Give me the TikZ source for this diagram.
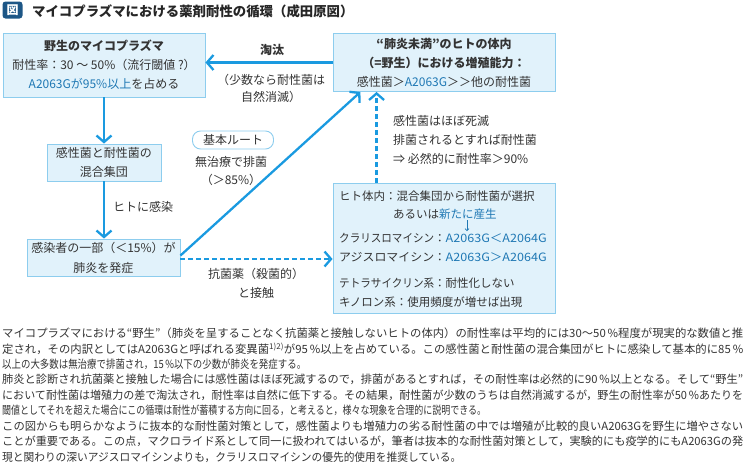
\documentclass[tikz,border=0pt]{standalone}
\usepackage{fontspec}
\usepackage{graphicx}
\setmainfont{Noto Sans CJK JP}
\usetikzlibrary{arrows.meta,calc}
\definecolor{boxfill}{HTML}{E1F2FB}
\definecolor{boxline}{HTML}{8DCDEE}
\definecolor{arrowblue}{HTML}{1A9AE0}
\definecolor{textblue}{HTML}{1F78B4}
\definecolor{txt}{HTML}{333333}
\definecolor{iconblue}{HTML}{1D5686}
\tikzset{
  box/.style={draw=boxline, fill=boxfill, line width=0.9pt, inner sep=0pt, align=center, text=txt, font=\fontsize{12}{19}\selectfont},
  arr/.style={draw=arrowblue, line width=2.3pt, -{Straight Barb[length=6.5pt,width=15pt]}},
  darr/.style={arr, dash pattern=on 5pt off 3pt},
  lbl/.style={inner sep=0pt, text=txt, font=\fontsize{12}{18}\selectfont},
  para/.style={anchor=west, inner sep=0pt, text=txt, font=\fontsize{11.3}{11.3}\selectfont},
  inl/.style={anchor=west, inner sep=0pt, text=txt, font=\fontsize{11.5}{11.5}\selectfont},
}
\newcommand{\bl}[1]{\textcolor{textblue}{#1}}
\begin{document}
\begin{tikzpicture}[x=1pt,y=-1pt]
\useasboundingbox (0,0) rectangle (745,475);
% title
\node[fill=iconblue, rounded corners=3pt, minimum width=20pt, minimum height=17pt, inner sep=0pt, text=white, font=\fontsize{12}{12}\selectfont\bfseries] (icon) at (12.5,10) {図};
\node[anchor=west, inner sep=0pt, text=black!85, font=\fontsize{13.4}{13.4}\selectfont\bfseries] (title) at (32,11) {マイコプラズマにおける薬剤耐性の循環（成田原図）};
% boxes
\node[box, minimum width=202pt, minimum height=64pt] (box1) at (104,65) {{\bfseries 野生のマイコプラズマ}\\耐性率：30 ～ 50\%（流行閾値 ?）\\\bl{A2063Gが95\%以上}を占める};
\node[box, minimum width=222pt, minimum height=58pt] (box2) at (444,62.5) {{\bfseries “肺炎未満”のヒトの体内}\\{\bfseries（=野生）における増殖能力：}\\感性菌＞\bl{A2063G}＞＞他の耐性菌};
\node[box, minimum width=114pt, minimum height=37pt] (box3) at (104,162.5) {感性菌と耐性菌の\\混合集団};
\node[box, minimum width=153pt, minimum height=37pt, font=\fontsize{12}{20}\selectfont] (box4) at (103.5,257.5) {感染者の一部（＜15\%）が\\肺炎を発症};
\node[box, minimum width=222pt, minimum height=130pt] (box5) at (444,248) {};
% box5 contents
\node[inl] (b5a) at (339,196) {ヒト体内：混合集団から耐性菌が選択};
\node[inl] (b5b) at (393,214.5) {あるいは\bl{新たに産生}};
\coordinate (dn1) at (467,220);
\coordinate (dn2) at (467,231);
\draw[textblue, line width=0.7pt, -{Straight Barb[length=2pt,width=4pt]}] (dn1) -- (dn2);
\node[inl] (b5c) at (339,238) {\resizebox{95pt}{\height}{クラリスロマイシン}};
\node[inl] (b5cc) at (434,238) {：\bl{\resizebox{101pt}{\height}{A2063G＜A2064G}}};
\node[inl] (b5d) at (339,257) {\resizebox{95pt}{\height}{アジスロマイシン}};
\node[inl] (b5dd) at (434,257) {：\bl{\resizebox{101pt}{\height}{A2063G＞A2064G}}};
\node[inl] (b5e) at (339,283) {\resizebox{95pt}{\height}{テトラサイクリン系}：耐性化しない};
\node[inl] (b5f) at (339,302) {キノロン系：使用頻度が増せば出現};
% connectors
\coordinate (s1) at ($(box4.east)+(0,-2)$);
\coordinate (s2) at ($(box2.south west)!0.125!(box2.south east)$);
\coordinate (d1) at ($(box4.east)+(0,1.5)$);
\coordinate (v1) at ($(box5.north west)+(44,0)$);
\coordinate (v2) at ($(box2.south west)+(44,0)$);
\draw[arr] (box2.west) -- (box2.west -| box1.east);
\draw[arr] (box1.south) -- (box3.north);
\draw[arr] (box3.south) -- (box3.south |- box4.north);
\draw[arr] (s1) -- (s2);
\draw[darr] (d1) -- (d1 -| box5.west);
\draw[darr] (v1) -- (v2);
% labels
\node[lbl, font=\fontsize{12}{12}\selectfont\bfseries] (l1) at (272,50) {淘汰};
\node[lbl, align=center, font=\fontsize{12}{17.5}\selectfont] (l2) at (271,88.5) {（少数なら耐性菌は\\自然消滅）};
\node[lbl, anchor=west] (l3) at (113,207) {ヒトに感染};
\node[draw=boxline, line width=0.9pt, fill=white, rounded corners=8pt, minimum width=81pt, minimum height=18pt, inner sep=0pt, text=txt, font=\fontsize{12}{12}\selectfont] (route) at (233,140) {基本ルート};
\node[lbl, align=center] (l4) at (231,171) {無治療で排菌\\（＞85\%）};
\node[lbl, align=center, font=\fontsize{12}{19}\selectfont] (l5) at (256,283.5) {抗菌薬（殺菌的）\\と接触};
\node[lbl, align=left, anchor=west, font=\fontsize{12}{19}\selectfont] (l6) at (393,140) {感性菌はほぼ死滅\\排菌されるとすれば耐性菌\\⇒ 必然的に耐性率＞90\%};
% paragraph
\node[para] (p1) at (2,333) {\resizebox{741pt}{\height}{マイコプラズマにおける“野生”（肺炎を呈することなく抗菌薬と接触しないヒトの体内）の耐性率は平均的には30～50\,\%程度が現実的な数値と推}};
\node[para] (p2) at (2,348.5) {\resizebox{741pt}{\height}{定され，その内訳としてはA2063Gと呼ばれる変異菌\textsuperscript{1)2)}が95\,\%以上を占めている。この感性菌と耐性菌の混合集団がヒトに感染して基本的に85\,\%}};
\node[para] (p3) at (2,364) {\resizebox{304pt}{\height}{以上の大多数は無治療で排菌され，15\,\%以下の少数が肺炎を発症する。}};
\node[para] (p4) at (2,379.5) {\resizebox{741pt}{\height}{肺炎と診断され抗菌薬と接触した場合には感性菌はほぼ死滅するので，排菌があるとすれば，その耐性率は必然的に90\,\%以上となる。そして“野生”}};
\node[para] (p5) at (2,395) {\resizebox{741pt}{\height}{において耐性菌は増殖力の差で淘汰され，耐性率は自然に低下する。その結果，耐性菌が少数のうちは自然消滅するが，野生の耐性率が50\,\%あたりを}};
\node[para] (p6) at (2,410.5) {\resizebox{484pt}{\height}{閾値としてそれを超えた場合にこの循環は耐性が蓄積する方向に回る，と考えると，様々な現象を合理的に説明できる。}};
\node[para] (p7) at (2,426) {\resizebox{741pt}{\height}{この図からも明らかなように抜本的な耐性菌対策として，感性菌よりも増殖力の劣る耐性菌の中では増殖が比較的良いA2063Gを野生に増やさない}};
\node[para] (p8) at (2,441.5) {\resizebox{741pt}{\height}{ことが重要である。この点，マクロライド系として同一に扱われてはいるが，筆者は抜本的な耐性菌対策として，実験的にも疫学的にもA2063Gの発}};
\node[para] (p9) at (2,457) {\resizebox{459pt}{\height}{現と関わりの深いアジスロマイシンよりも，クラリスロマイシンの優先的使用を推奨している。}};
\end{tikzpicture}
\end{document}
